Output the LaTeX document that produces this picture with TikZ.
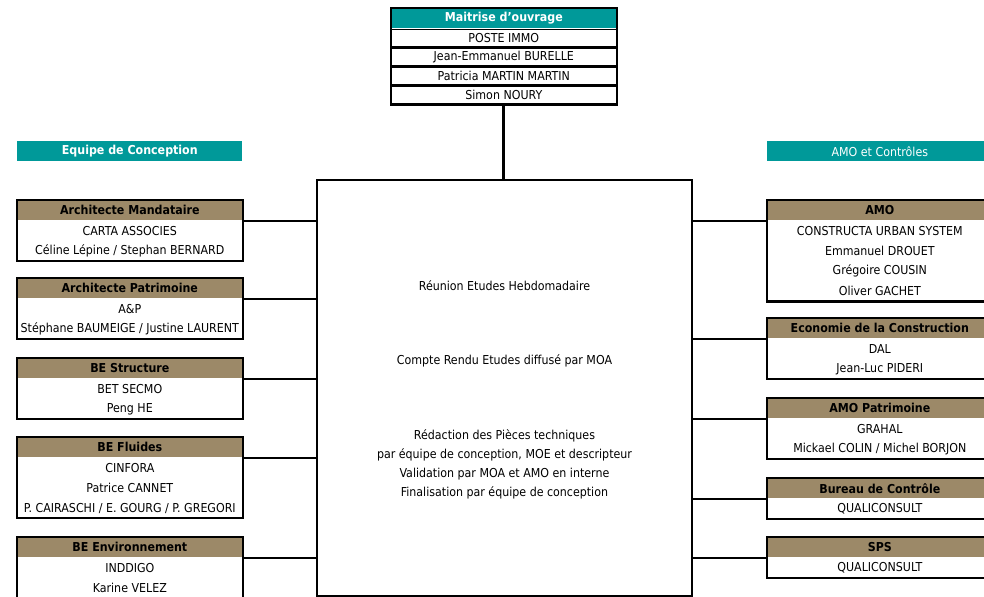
\documentclass[tikz,border=0pt]{standalone}
\usepackage{fontspec}
\setmainfont{DejaVu Sans Condensed}
\usetikzlibrary{
  positioning
}
\definecolor{moateal}{RGB}{0,153,153}
\definecolor{hdrtan}{RGB}{156,137,104}
\newcommand{\cellfont}{\fontsize{7}{8.4}\selectfont}

\begin{document}
\begin{tikzpicture}[x=0.02cm, y=-0.02cm]
  \tikzset{
    cell/.style={minimum width=4.5cm, minimum height=0.39cm, inner sep=0pt,
      anchor=north west, font=\cellfont},
    rolehead/.style={cell, fill=hdrtan, minimum height=0.4cm,
      font=\cellfont\bfseries},
    roleline/.style={cell, below=0pt of #1},
    teamhead/.style={cell, fill=moateal, text=white, minimum height=0.4cm},
    moaline/.style={cell, draw, line width=0.7pt, minimum height=0.355cm,
      below=0pt of #1},
    boxframe/.style={draw, line width=1.2pt},
    link/.style={line width=1.2pt},
  }
  \useasboundingbox (0,0) rectangle (984,597);

  % maitrise d'ouvrage on top
  \node[teamhead, font=\cellfont\bfseries] (moa) at (391,8) {Maitrise d'ouvrage};
  \node[moaline=moa] (moa1) {POSTE IMMO};
  \node[moaline=moa1] (moa2) {Jean-Emmanuel BURELLE};
  \node[moaline=moa2] (moa3) {Patricia MARTIN MARTIN};
  \node[moaline=moa3] (moa4) {Simon NOURY};
  \draw[draw, line width=1.6pt] (moa.north west) rectangle (moa4.south east);

  % central meeting box
  \node[draw, line width=1.2pt, minimum width=7.5cm, minimum height=8.32cm,
    inner sep=0pt] (meeting) at (504.5,388) {};
  \node[font=\cellfont] (reunion) at (504.5,286) {Réunion Etudes Hebdomadaire};
  \node[font=\cellfont] (compte) at (504.5,361) {Compte Rendu Etudes diffusé par MOA};
  \node[font=\fontsize{7}{10.8}\selectfont, align=center] (redaction) at (504.5,464.5)
  {Rédaction des Pièces techniques\\
   par équipe de conception, MOE et descripteur\\
   Validation par MOA et AMO en interne\\
   Finalisation par équipe de conception};

  \draw[line width=1.8pt] (moa4.south) -- (moa4.south |- meeting.north);

  % team titles
  \node[teamhead, font=\cellfont\bfseries] (conception) at (17,141) {Equipe de Conception};
  \node[teamhead] (controles) at (767,141) {AMO et Contrôles};

  % equipe de conception (left)
  \node[rolehead] (archi) at (17,200) {Architecte Mandataire};
  \node[roleline=archi] (archi1) {CARTA ASSOCIES};
  \node[roleline=archi1] (archi2) {Céline Lépine / Stephan BERNARD};

  \node[rolehead] (patri) at (17,278) {Architecte Patrimoine};
  \node[roleline=patri] (patri1) {A\&P};
  \node[roleline=patri1] (patri2) {Stéphane BAUMEIGE / Justine LAURENT};

  \node[rolehead] (struct) at (17,358) {BE Structure};
  \node[roleline=struct] (struct1) {BET SECMO};
  \node[roleline=struct1] (struct2) {Peng HE};

  \node[rolehead] (fluid) at (17,437) {BE Fluides};
  \node[roleline=fluid] (fluid1) {CINFORA};
  \node[roleline=fluid1] (fluid2) {Patrice CANNET};
  \node[roleline=fluid2] (fluid3) {P. CAIRASCHI / E. GOURG / P. GREGORI};

  \node[rolehead] (envir) at (17,537) {BE Environnement};
  \node[roleline=envir] (envir1) {INDDIGO};
  \node[roleline=envir1] (envir2) {Karine VELEZ};

  % amo et controles (right)
  \node[rolehead] (amo) at (767,200) {AMO};
  \node[roleline=amo] (amo1) {CONSTRUCTA URBAN SYSTEM};
  \node[roleline=amo1] (amo2) {Emmanuel DROUET};
  \node[roleline=amo2] (amo3) {Grégoire COUSIN};
  \node[roleline=amo3] (amo4) {Oliver GACHET};

  \node[rolehead] (eco) at (767,318) {Economie de la Construction};
  \node[roleline=eco] (eco1) {DAL};
  \node[roleline=eco1] (eco2) {Jean-Luc PIDERI};

  \node[rolehead] (amopat) at (767,398) {AMO Patrimoine};
  \node[roleline=amopat] (amopat1) {GRAHAL};
  \node[roleline=amopat1] (amopat2) {Mickael COLIN / Michel BORJON};

  \node[rolehead] (bureau) at (767,478) {Bureau de Contrôle};
  \node[roleline=bureau] (bureau1) {QUALICONSULT};

  \node[rolehead] (sps) at (767,537) {SPS};
  \node[roleline=sps] (sps1) {QUALICONSULT};

  % frames round each box
  \foreach \b/\e in {archi/archi2,patri/patri2,struct/struct2,fluid/fluid3,
    envir/envir2,amo/amo4,eco/eco2,amopat/amopat2,bureau/bureau1,sps/sps1}
  \draw[boxframe] (\b.north west) rectangle (\e.south east);

  % links to the meeting box
  \foreach \b in {archi,patri,struct,fluid,envir}
  \draw[link] (\b.south east) -- (\b.south east -| meeting.west);
  \foreach \b in {amo,eco,amopat,bureau,sps}
  \draw[link] (\b.south west) -- (\b.south west -| meeting.east);
\end{tikzpicture}
\end{document}
